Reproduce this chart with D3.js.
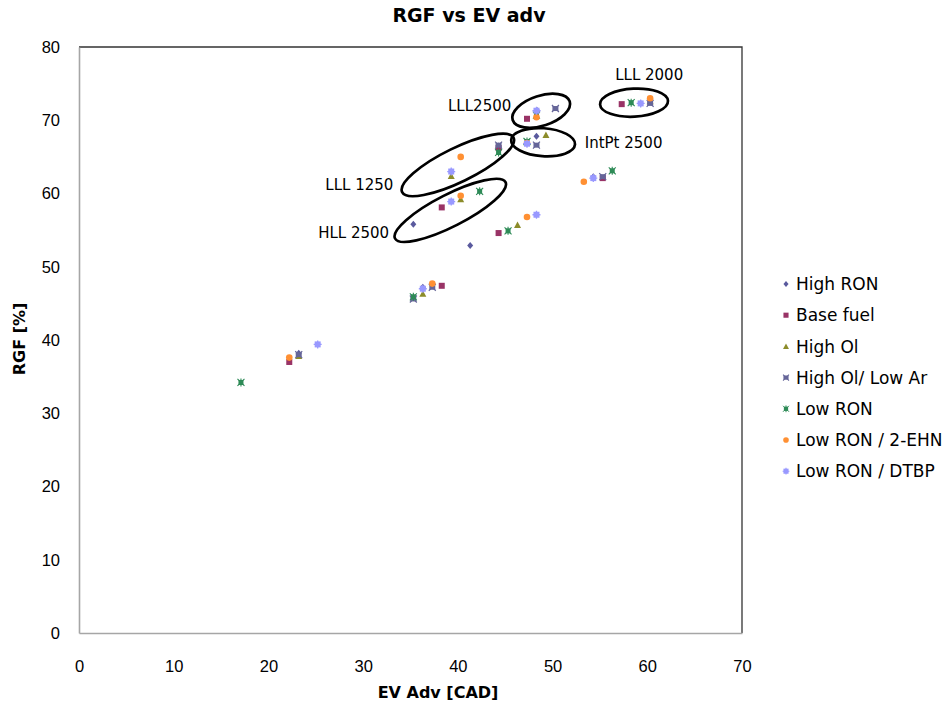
<!DOCTYPE html>
<html><head><meta charset="utf-8">
<script src="https://cdn.jsdelivr.net/npm/d3@7"></script>
<style>body{margin:0;background:#fff}svg{font-family:"DejaVu Sans",sans-serif}</style>
</head><body><svg id="c" width="946" height="713"></svg>
<script>
const xTicks=[0,10,20,30,40,50,60,70];
const yTicks=[0,10,20,30,40,50,60,70,80];
const seriesNames=["High RON","Base fuel","High Ol","High Ol/ Low Ar","Low RON","Low RON / 2-EHN","Low RON / DTBP"];
const highRON=[[23.2,38.2],[36.3,47.2],[35.3,55.8],[41.3,52.9],[44.3,66.5],[48.3,67.8],[48.4,71.3],[54.3,62.3],[59.3,72.3]];
const baseFuel=[[22.2,37.0],[38.3,47.4],[38.3,58.1],[44.3,54.6],[44.3,66.2],[47.3,70.2],[55.3,62.1],[57.3,72.2]];
const highOl=[[23.2,37.8],[36.3,46.3],[39.3,62.4],[40.3,59.2],[46.3,55.7],[49.3,68.0],[60.3,72.6]];
const highOlLowAr=[[23.2,38.0],[35.3,45.6],[37.3,47.2],[44.3,66.6],[48.3,66.6],[50.3,71.6],[55.3,62.3],[60.3,72.3]];
const lowRON=[[17.1,34.2],[35.3,45.9],[42.3,60.3],[45.3,54.9],[44.3,65.6],[47.3,67.1],[48.3,70.7],[56.3,63.1],[58.3,72.4]];
const lowRON2EHN=[[22.2,37.6],[37.3,47.7],[40.3,59.7],[40.3,65.0],[47.3,56.8],[47.3,66.9],[48.3,70.4],[53.3,61.6],[60.3,73.0]];
const lowRONDTBP=[[25.2,39.4],[36.3,47.0],[39.3,58.9],[39.3,63.0],[48.3,57.1],[47.3,66.8],[48.3,71.3],[54.3,62.1],[59.3,72.3]];
const seriesData=[highRON,baseFuel,highOl,highOlLowAr,lowRON,lowRON2EHN,lowRONDTBP];
const colors=["#5a5a9e","#993366","#8c8c2a","#666699","#2e8b57","#ff9033","#9999ff"];
const ellipses=[
 {label:"LLL 2000",cx:58.6,cy:72.4,rx:34,ry:14,a:-3,lx:60.2,ly:76.2},
 {label:"LLL2500",cx:48.8,cy:71.3,rx:30,ry:15,a:-18,lx:42.3,ly:72.0},
 {label:"IntPt 2500",cx:49.0,cy:67.0,rx:32,ry:14,a:4,lx:57.5,ly:66.9},
 {label:"LLL 1250",cx:40.0,cy:63.9,rx:62,ry:17,a:-26,lx:29.6,ly:61.2},
 {label:"HLL 2500",cx:39.2,cy:57.7,rx:62,ry:16,a:-27,lx:29.0,ly:54.6}
];

const svg=d3.select("#c");
const L=79,R=742,T=47,B=633;
const x=d3.scaleLinear().domain([0,70]).range([L,R]);
const y=d3.scaleLinear().domain([0,80]).range([B,T]);

svg.append("path").attr("d",`M${L},${T}H${R}V${B}`).attr("fill","none").attr("stroke","#333").attr("stroke-width",1.3);

const xa=svg.append("g").attr("transform",`translate(0,${B})`)
  .call(d3.axisBottom(x).tickValues(xTicks).tickSize(0).tickPadding(27).tickFormat(d3.format("d")));
const ya=svg.append("g").attr("transform",`translate(${L},0)`)
  .call(d3.axisLeft(y).tickValues(yTicks).tickSize(0).tickPadding(19).tickFormat(d3.format("d")));
[xa,ya].forEach(g=>{g.select(".domain").attr("stroke","#a6a6a6").attr("stroke-width",1.6);
 g.selectAll("text").attr("font-size",16.5).attr("fill","#000").attr("font-family","inherit");});

svg.append("text").attr("x",469).attr("y",22).attr("text-anchor","middle")
  .attr("font-size",19).attr("font-weight","bold").text("RGF vs EV adv");
svg.append("text").attr("x",438).attr("y",698).attr("text-anchor","middle")
  .attr("font-size",16).attr("font-weight","bold").text("EV Adv [CAD]");
svg.append("text").attr("transform","translate(25,339) rotate(-90)").attr("text-anchor","middle")
  .attr("font-size",16).attr("font-weight","bold").text("RGF [%]");

function marker(g,i,c){
  if(i===0) g.append("path").attr("d","M0,-3.5L3,0L0,3.5L-3,0Z").attr("fill",c);
  else if(i===1) g.append("rect").attr("x",-3).attr("y",-3).attr("width",6).attr("height",6).attr("fill",c);
  else if(i===2) g.append("path").attr("d","M0,-3.5L3.5,3L-3.5,3Z").attr("fill",c);
  else if(i===3){ g.append("rect").attr("x",-3).attr("y",-2.5).attr("width",6).attr("height",5).attr("fill",c);
    g.append("path").attr("d","M-3.5,-3.5L3.5,3.5M3.5,-3.5L-3.5,3.5").attr("stroke",c).attr("stroke-width",1.2);}
  else if(i===4){ g.append("rect").attr("x",-2.5).attr("y",-2.5).attr("width",5).attr("height",5).attr("fill",c);
    g.append("path").attr("d","M-3.5,-3.5L3.5,3.5M3.5,-3.5L-3.5,3.5M0,-4L0,4").attr("stroke",c).attr("stroke-width",1.1);}
  else if(i===5) g.append("circle").attr("r",3.3).attr("fill",c);
  else { g.append("rect").attr("x",-3).attr("y",-3).attr("width",6).attr("height",6).attr("fill",c);
    g.append("path").attr("d","M0,-4L0,4M-4,0L4,0").attr("stroke",c).attr("stroke-width",1.3);}
}

seriesData.forEach((arr,i)=>{
  const g=svg.append("g");
  g.selectAll("g").data(arr).join("g")
   .attr("transform",d=>`translate(${x(d[0])},${y(d[1])})`)
   .each(function(){marker(d3.select(this),i,colors[i]);});
});

ellipses.forEach(e=>{
  svg.append("ellipse").attr("cx",0).attr("cy",0).attr("rx",e.rx).attr("ry",e.ry)
    .attr("transform",`translate(${x(e.cx)},${y(e.cy)}) rotate(${e.a})`)
    .attr("fill","none").attr("stroke","#000").attr("stroke-width",2.7);
  svg.append("text").attr("x",x(e.lx)).attr("y",y(e.ly)).attr("dy","0.36em")
    .attr("text-anchor","middle").attr("font-size",15).text(e.label);
});

const lg=svg.append("g");
seriesNames.forEach((n,i)=>{
  const yy=284+i*31.2;
  const g=lg.append("g");
  marker(g,i,colors[i]);
  g.attr("transform",`translate(786,${yy}) scale(0.85)`);
  lg.append("text").attr("x",796).attr("y",yy).attr("dy","0.36em").attr("font-size",17).text(n);
});
</script></body></html>
